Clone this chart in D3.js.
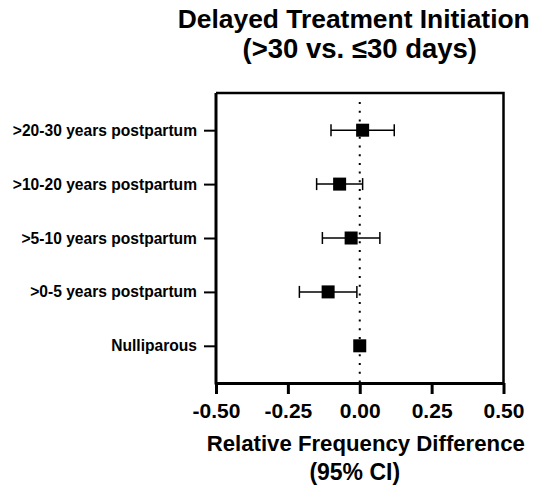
<!DOCTYPE html>
<html>
<head>
<meta charset="utf-8">
<script src="https://cdn.jsdelivr.net/npm/d3@7"></script>
<style>
	body { margin: 0; background: #fff; }
	svg text { font-family: "Liberation Sans", Arial, sans-serif; font-weight: bold; fill: #000; }
</style>
</head>
<body>
<div id="chart"></div>
<script>
// rows top to bottom
const categories = [">20-30 years postpartum", ">10-20 years postpartum", ">5-10 years postpartum", ">0-5 years postpartum", "Nulliparous"];
const estimates = [0.01, -0.07, -0.03, -0.11, 0.00];
const lowerCI = [-0.10, -0.15, -0.13, -0.21, null];
const upperCI = [0.12, 0.01, 0.07, -0.01, null];
const xTicks = [-0.50, -0.25, 0.00, 0.25, 0.50];

const width = 547, height = 487;
const plotLeft = 216, plotRight = 503.5, plotTop = 93, plotBottom = 383;

let rows = categories.map((c, i) => ({name: c, est: estimates[i], lo: lowerCI[i], hi: upperCI[i]}));

let svg = d3.select("#chart").append("svg")
	.attr("width", width)
	.attr("height", height);

let xScale = d3.scaleLinear()
	.domain([-0.5, 0.5])
	.range([plotLeft, plotRight]);

let yScale = d3.scalePoint()
	.domain(categories)
	.range([plotTop, plotBottom])
	.padding(0.69);

// frame top + right
svg.append("path")
	.attr("d", `M${plotLeft},${plotTop}H${plotRight}V${plotBottom}`)
	.attr("fill", "none")
	.attr("stroke", "#000")
	.attr("stroke-width", 2.5);

// dotted zero line
svg.append("line")
	.attr("x1", xScale(0)).attr("x2", xScale(0))
	.attr("y1", plotTop + 9).attr("y2", plotBottom)
	.attr("stroke", "#000")
	.attr("stroke-width", 2)
	.attr("stroke-dasharray", "2,6.7");

// x axis
let xAxis = d3.axisBottom(xScale)
	.tickValues(xTicks)
	.tickSize(11)
	.tickSizeOuter(0)
	.tickPadding(9)
	.tickFormat(d => d.toFixed(2));

let gx = svg.append("g")
	.attr("transform", `translate(0,${plotBottom})`)
	.call(xAxis);
gx.select(".domain").attr("stroke-width", 3);
gx.selectAll(".tick line").attr("stroke-width", 3);
gx.selectAll(".tick text").style("font-size", "21px");

// y axis
let yAxis = d3.axisLeft(yScale)
	.tickSize(12)
	.tickSizeOuter(0)
	.tickPadding(7);

let gy = svg.append("g")
	.attr("transform", `translate(${plotLeft},0)`)
	.call(yAxis);
gy.select(".domain").attr("stroke-width", 3).attr("d", `M0,${plotTop}V${plotBottom + 1.5}`);
gy.selectAll(".tick line").attr("stroke-width", 2);
gy.selectAll(".tick text").style("font-size", "15.6px");

// error bars
let ci = rows.filter(d => d.lo !== null);
let bars = svg.append("g").attr("stroke", "#000").attr("stroke-width", 1.5);
bars.selectAll(".whisker")
	.data(ci)
	.join("line")
	.attr("x1", d => xScale(d.lo))
	.attr("x2", d => xScale(d.hi))
	.attr("y1", d => yScale(d.name))
	.attr("y2", d => yScale(d.name));
bars.selectAll(".capL")
	.data(ci)
	.join("line")
	.attr("x1", d => xScale(d.lo)).attr("x2", d => xScale(d.lo))
	.attr("y1", d => yScale(d.name) - 6)
	.attr("y2", d => yScale(d.name) + 6);
bars.selectAll(".capR")
	.data(ci)
	.join("line")
	.attr("x1", d => xScale(d.hi)).attr("x2", d => xScale(d.hi))
	.attr("y1", d => yScale(d.name) - 6)
	.attr("y2", d => yScale(d.name) + 6);

// square markers
const sq = 13;
svg.append("g").selectAll("rect")
	.data(rows)
	.join("rect")
	.attr("x", d => xScale(d.est) - sq / 2)
	.attr("y", d => yScale(d.name) - sq / 2)
	.attr("width", sq)
	.attr("height", sq)
	.attr("fill", "#000");

// titles
let cx = (plotLeft + plotRight) / 2;
svg.append("text")
	.attr("x", cx - 6).attr("y", 28)
	.attr("text-anchor", "middle")
	.style("font-size", "26.4px")
	.text("Delayed Treatment Initiation");
svg.append("text")
	.attr("x", cx).attr("y", 58)
	.attr("text-anchor", "middle")
	.style("font-size", "27.5px")
	.text("(>30 vs. ≤30 days)");

svg.append("text")
	.attr("x", cx + 6).attr("y", 451)
	.attr("text-anchor", "middle")
	.style("font-size", "22.2px")
	.text("Relative Frequency Difference");
svg.append("text")
	.attr("x", cx - 5).attr("y", 480)
	.attr("text-anchor", "middle")
	.style("font-size", "23px")
	.text("(95% CI)");
</script>
</body>
</html>
